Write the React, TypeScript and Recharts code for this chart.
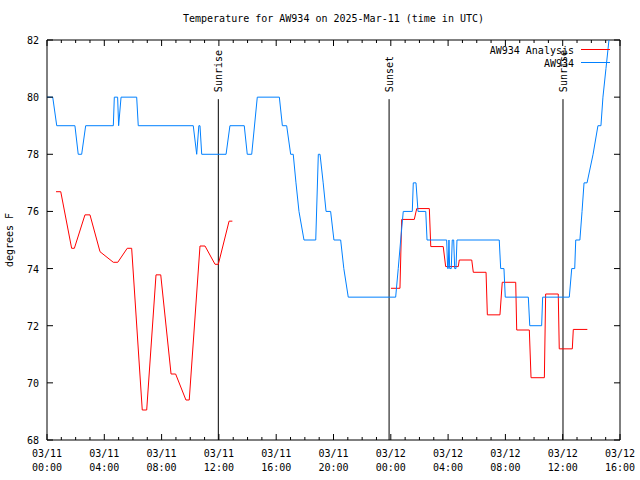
import React from "react"
import { LineChart, Line, XAxis, YAxis, Legend, ReferenceArea, ReferenceLine } from "recharts"

// hours since 2025-03-11 00:00 UTC
const observedHours = [
  0, 0.4, 0.68, 1.95, 2.18, 2.42, 2.7, 4.63, 4.7, 4.93, 5.0, 5.17, 6.26, 6.37,
  10.21, 10.45, 10.6, 10.68, 10.8, 12.5, 12.77, 13.77, 13.98, 14.29, 14.68, 16.22,
  16.43, 16.73, 17.01, 17.19, 17.38, 17.59, 17.94, 18.76, 18.94, 19.06, 19.28, 19.48,
  19.8, 20.03, 20.5, 20.72, 21.03, 24.34, 24.52, 24.69, 24.87, 25.5, 25.57, 25.76,
  25.9, 26.44, 26.53, 27.9, 27.97, 28.01, 28.06, 28.11, 28.22, 28.29, 28.39, 28.46,
  28.55, 28.62, 31.57, 31.67, 31.9, 31.99, 33.6, 33.7, 34.53, 34.6, 36.46, 36.63,
  36.84, 36.91, 37.2, 37.35, 37.49, 37.7, 38.12, 38.46, 38.67, 38.81, 39.02, 39.23,
]
const observedTemps = [
  80, 80, 79, 79, 78, 78, 79, 79, 80, 80, 79, 80, 80, 79,
  79, 78, 79, 79, 78, 78, 79, 79, 78, 78, 80, 80,
  79, 79, 78, 78, 77, 76, 75, 75, 78, 78, 77, 76,
  76, 75, 75, 74, 73, 73, 74, 75, 76, 76, 77, 77,
  76, 76, 75, 75, 74, 74, 75, 74, 74, 75, 75, 74,
  74, 75, 75, 74, 74, 73, 73, 72, 72, 73, 73, 74,
  74, 75, 75, 76, 77, 77, 78, 79, 79, 80, 81, 82,
]

const analysisHours = [
  0.63, 0.96, 1.72, 1.91, 2.65, 3.0, 3.7, 4.63, 4.94, 5.6, 5.91, 6.65, 6.96, 7.61,
  7.94, 8.66, 8.98, 9.7, 9.93, 10.68, 11.03, 11.73, 11.96, 12.71, 12.94,
  18,
  24.01, 24.64, 24.76, 25.64, 25.81, 26.69, 26.79, 27.66, 27.83, 28.71, 28.78, 29.65,
  29.76, 30.65, 30.74, 31.62, 31.78, 32.72, 32.79, 33.67, 33.79, 34.72, 34.81, 35.69,
  35.76, 36.67, 36.74, 37.72,
]
const analysisTemps = [
  76.69, 76.69, 74.71, 74.71, 75.88, 75.88, 74.59, 74.22, 74.22, 74.71, 74.71, 69.05, 69.05, 73.78,
  73.78, 70.31, 70.31, 69.4, 69.4, 74.79, 74.79, 74.15, 74.15, 75.66, 75.66,
  null,
  73.31, 73.31, 75.72, 75.72, 76.1, 76.1, 74.77, 74.77, 74.07, 74.07, 74.3, 74.3,
  73.87, 73.87, 72.38, 72.38, 73.52, 73.52, 71.85, 71.85, 70.18, 70.18, 73.11, 73.11,
  71.19, 71.19, 71.87, 71.87,
]

const sunLabels = ["Sunrise", "Sunset", "Sunrise"]
const sunHours = [11.96, 23.88, 36.02]
const SUN_LINE_TOP = 79.93

const seriesNames = ["AW934 Analysis", "AW934"]

const hourTicks = Array.from({ length: 41 }, (_, i) => i)
const tickDates = ["03/11", "03/11", "03/11", "03/11", "03/11", "03/11", "03/12", "03/12", "03/12", "03/12", "03/12"]
const tickTimes = ["00:00", "04:00", "08:00", "12:00", "16:00", "20:00", "00:00", "04:00", "08:00", "12:00", "16:00"]
const tempTicks = [68, 70, 72, 74, 76, 78, 80, 82]

const observed = observedHours.map((t, i) => ({ t, temp: observedTemps[i] }))
const analysis = analysisHours.map((t, i) => ({ t, temp: analysisTemps[i] }))

const FONT = "'DejaVu Sans Mono', monospace"
const PLOT_LEFT = 47
const PLOT_RIGHT = 620
const PLOT_TOP = 40
const PLOT_BOTTOM = 440

const XTick = ({ x, payload }: any) => {
  const t = payload.value
  const major = t % 4 === 0
  const len = major ? 6 : 3
  return (
    <g>
      <line x1={x} x2={x} y1={PLOT_BOTTOM} y2={PLOT_BOTTOM - len} stroke="#000" />
      <line x1={x} x2={x} y1={PLOT_TOP} y2={PLOT_TOP + len} stroke="#000" />
      {major && (
        <text x={x} textAnchor="middle" fontFamily={FONT} fontSize={10} fill="#000">
          <tspan x={x} y={457}>{tickDates[t / 4]}</tspan>
          <tspan x={x} y={471}>{tickTimes[t / 4]}</tspan>
        </text>
      )}
    </g>
  )
}

const YTick = ({ y, payload }: any) => (
  <g>
    <line x1={PLOT_LEFT} x2={PLOT_LEFT + 6} y1={y} y2={y} stroke="#000" />
    <line x1={PLOT_RIGHT} x2={PLOT_RIGHT - 6} y1={y} y2={y} stroke="#000" />
    <text x={39} y={y + 4} textAnchor="end" fontFamily={FONT} fontSize={10} fill="#000">
      {payload.value}
    </text>
  </g>
)

const sunShape = (label: string) => (p: any) => {
  const top = Math.min(p.y1, p.y2)
  const bottom = Math.max(p.y1, p.y2)
  return (
    <g>
      <line x1={p.x1} x2={p.x2} y1={bottom} y2={top} stroke="#000" />
      <text
        transform={`translate(${p.x1 + 4}, ${top - 7}) rotate(-90)`}
        fontFamily={FONT}
        fontSize={10}
        fill="#000"
      >
        {label}
      </text>
    </g>
  )
}

const renderLegend = ({ payload }: any) => {
  const entries = seriesNames
    .map((name) => (payload || []).find((e: any) => e.value === name))
    .filter(Boolean)
  return (
    <svg width={640} height={80} style={{ position: "absolute", left: 0, top: 0 }}>
      {entries.map((entry: any, i: number) => (
        <g key={entry.value}>
          <text x={574} y={54 + i * 13} textAnchor="end" fontFamily={FONT} fontSize={10} fill="#000">
            {entry.value}
          </text>
          <line x1={581} x2={610} y1={49.5 + i * 13} y2={49.5 + i * 13} stroke={entry.color} />
        </g>
      ))}
    </svg>
  )
}

export default function App() {
  return (
    <div style={{ position: "absolute", left: 0, top: 0, width: 640, height: 480, background: "#fff", fontFamily: FONT }}>
      <div style={{ position: "absolute", top: 13, left: PLOT_LEFT, width: PLOT_RIGHT - PLOT_LEFT, textAlign: "center", fontSize: 10, color: "#000" }}>
        Temperature for AW934 on 2025-Mar-11 (time in UTC)
      </div>
      <LineChart width={640} height={480} margin={{ top: 40, right: 20, bottom: 0, left: 0 }}>
        <XAxis
          type="number"
          dataKey="t"
          domain={[0, 40]}
          ticks={hourTicks}
          interval={0}
          height={40}
          axisLine={false}
          tickLine={false}
          tick={<XTick />}
        />
        <YAxis
          type="number"
          domain={[68, 82]}
          ticks={tempTicks}
          allowDataOverflow
          width={47}
          axisLine={false}
          tickLine={false}
          tick={<YTick />}
          label={{
            content: () => (
              <text
                transform="translate(13, 240) rotate(-90)"
                textAnchor="middle"
                fontFamily={FONT}
                fontSize={10}
                fill="#000"
              >
                degrees F
              </text>
            ),
          }}
        />
        <ReferenceArea x1={0} x2={40} y1={68} y2={82} fill="none" stroke="#000" strokeOpacity={1} />
        {sunHours.map((t, i) => (
          <ReferenceLine
            key={i}
            segment={[{ x: t, y: 68 }, { x: t, y: SUN_LINE_TOP }]}
            stroke="#000"
            shape={sunShape(sunLabels[i])}
          />
        ))}
        <Line
          data={analysis}
          dataKey="temp"
          name="AW934 Analysis"
          type="linear"
          stroke="#ff0000"
          strokeWidth={1}
          dot={false}
          connectNulls={false}
          isAnimationActive={false}
        />
        <Line
          data={observed}
          dataKey="temp"
          name="AW934"
          type="linear"
          stroke="#0080ff"
          strokeWidth={1}
          dot={false}
          isAnimationActive={false}
        />
        <Legend
          layout="horizontal"
          verticalAlign="middle"
          content={renderLegend}
          wrapperStyle={{ top: 0, left: 0, width: 640, height: 80, pointerEvents: "none" }}
        />
      </LineChart>
    </div>
  )
}
